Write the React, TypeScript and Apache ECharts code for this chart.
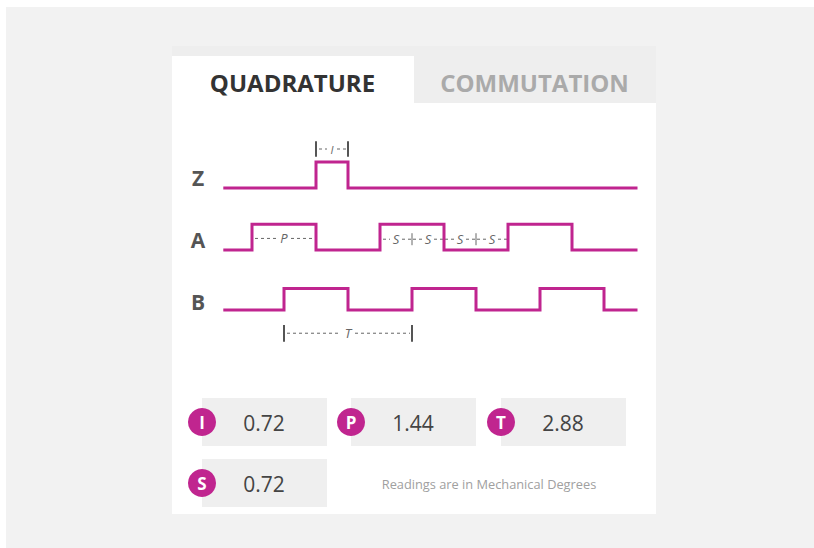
import React, { useEffect, useRef } from "react";
import * as echarts from "echarts";

// ---- data ----
const tabNames = ["QUADRATURE", "COMMUTATION"];
const signalNames = ["Z", "A", "B"];
// transition points, in quarter-period steps
const zEdges = [3, 4];
const aEdges = [1, 3, 5, 7, 9, 11];
const bEdges = [2, 4, 6, 8, 10, 12];
const xStart = 0.15;
const xEnd = 13;
const readingLabels = ["I", "P", "T", "S"];
const readingValues = ["0.72", "1.44", "2.88", "0.72"];
const footnote = "Readings are in Mechanical Degrees";

const MAGENTA = "#c0258f";
const FONT = "'Open Sans', 'Noto Sans', sans-serif";

function buildWave(edges: number[]): number[][] {
  const pts: number[][] = [[xStart, 0]];
  let level = 0;
  for (const e of edges) {
    pts.push([e, level]);
    level = level ? 0 : 1;
    pts.push([e, level]);
  }
  pts.push([xEnd, level]);
  return pts;
}

const waves = [buildWave(zEdges), buildWave(aEdges), buildWave(bEdges)];
const gridTops = [162, 224.3, 288.5];
const gridHeights = [26, 25.7, 21.5];

export default function App() {
  const ref = useRef<HTMLDivElement>(null);
  useEffect(() => {
    if (!ref.current) return;
    const chart = echarts.init(ref.current, undefined, { renderer: "svg" });
    chart.setOption({
      animation: false,
      backgroundColor: "#ffffff",
      grid: gridTops.map((t, i) => ({ left: 220, width: 416, top: t, height: gridHeights[i] })),
      xAxis: gridTops.map((_, i) => ({ type: "value", gridIndex: i, min: 0, max: 13, show: false })),
      yAxis: gridTops.map((_, i) => ({ type: "value", gridIndex: i, min: 0, max: 1, show: false })),
      series: waves.map((w, i) => ({
        type: "line",
        name: signalNames[i],
        xAxisIndex: i,
        yAxisIndex: i,
        data: w,
        showSymbol: false,
        clip: false,
        z: 10,
        lineStyle: { color: MAGENTA, width: 3, join: "miter", cap: "square" },
      })),
    });

    const px = (g: number, x: number, y: number) =>
      chart.convertToPixel({ xAxisIndex: g, yAxisIndex: g }, [x, y]) as number[];

    const els: any[] = [];
    // backgrounds
    els.push({ type: "rect", z: -10, shape: { x: 6, y: 7, width: 808, height: 541 }, style: { fill: "#f2f2f2" } });
    els.push({ type: "rect", z: -9, shape: { x: 172, y: 46, width: 484, height: 468 }, style: { fill: "#ffffff" } });
    els.push({ type: "rect", z: -8, shape: { x: 172, y: 46, width: 484, height: 57 }, style: { fill: "#eeeeee" } });
    els.push({ type: "rect", z: -7, shape: { x: 172, y: 56, width: 242, height: 47 }, style: { fill: "#ffffff" } });
    // tabs
    const tabCenters = [292.5, 534.5];
    tabNames.forEach((t, i) => {
      els.push({
        type: "text",
        x: tabCenters[i],
        y: 82,
        style: {
          text: t,
          fill: i === 0 ? "#333333" : "#aaaaaa",
          font: `bold 24px ${FONT}`,
          align: "center",
          verticalAlign: "middle",
        },
      });
    });
    // signal names
    signalNames.forEach((n, i) => {
      const p = px(i, 0, 0.5);
      els.push({
        type: "text",
        x: 198,
        y: p[1] + 2.5,
        style: { text: n, fill: "#555555", font: `bold 21px ${FONT}`, align: "center", verticalAlign: "middle" },
      });
    });

    const ANN = "#666666";
    const dashSeg = (x1: number, x2: number, y: number) => ({
      type: "line",
      shape: { x1, y1: y, x2, y2: y },
      style: { stroke: ANN, lineWidth: 1, lineDash: [3, 3] },
    });
    const label = (t: string, x: number, y: number, size = 13) => ({
      type: "text",
      x,
      y,
      style: { text: t, fill: ANN, font: `italic ${size}px ${FONT}`, align: "center", verticalAlign: "middle" },
    });
    const bar = (x: number, y1: number, y2: number, w = 2, c = "#555555") => ({
      type: "line",
      shape: { x1: x, y1, x2: x, y2 },
      style: { stroke: c, lineWidth: w },
    });

    // I annotation on Z
    {
      const l = px(0, zEdges[0], 1.5);
      const r = px(0, zEdges[1], 1.5);
      const top = px(0, 0, 1.8)[1];
      const bot = px(0, 0, 1.2)[1];
      const c = (l[0] + r[0]) / 2;
      els.push(bar(l[0], top, bot), bar(r[0], top, bot));
      els.push(dashSeg(l[0] + 3, c - 5, l[1]), dashSeg(c + 5, r[0] - 2, l[1]));
      els.push(label("I", c, l[1], 11));
    }
    // P annotation on A
    {
      const y = 0.45;
      const l = px(1, aEdges[0], y);
      const r = px(1, aEdges[1], y);
      const c = (l[0] + r[0]) / 2;
      els.push(dashSeg(l[0] + 3, c - 7, l[1]), dashSeg(c + 7, r[0] - 2, l[1]));
      els.push(label("P", c, l[1]));
    }
    // S annotations on A
    {
      const y = 0.42;
      const s0 = aEdges[2];
      for (let k = 0; k < 4; k++) {
        const a = px(1, s0 + k, y);
        const b = px(1, s0 + k + 1, y);
        const c = (a[0] + b[0]) / 2;
        els.push(dashSeg(a[0] + (k === 0 ? 3 : 1), c - 6, a[1]), dashSeg(c + 6, b[0] - 1, a[1]));
        els.push(label("S", c, a[1]));
      }
      for (const t of [s0 + 1, s0 + 3]) {
        const p = px(1, t, y);
        els.push(bar(p[0], p[1] - 6, p[1] + 6, 1, ANN));
      }
    }
    // T annotation under B
    {
      const y = -1.08;
      const l = px(2, bEdges[0], y);
      const r = px(2, bEdges[2], y);
      const top = px(2, 0, -0.7)[1];
      const bot = px(2, 0, -1.48)[1];
      const c = (l[0] + r[0]) / 2;
      els.push(bar(l[0], top, bot), bar(r[0], top, bot));
      els.push(dashSeg(l[0] + 3, c - 7, l[1]), dashSeg(c + 7, r[0] - 2, l[1]));
      els.push(label("T", c, l[1]));
    }

    // reading boxes
    const boxX = [202, 351, 501];
    const boxY = [398, 459];
    readingLabels.forEach((lab, i) => {
      const col = i % 3;
      const row = Math.floor(i / 3);
      const x = boxX[col];
      const y = boxY[row];
      els.push({ type: "rect", shape: { x, y, width: 125, height: 48 }, style: { fill: "#efefef" } });
      els.push({ type: "circle", shape: { cx: x, cy: y + 24, r: 14 }, style: { fill: MAGENTA } });
      els.push({
        type: "text",
        x: x,
        y: y + 24,
        style: { text: lab, fill: "#ffffff", font: `bold 17px ${FONT}`, align: "center", verticalAlign: "middle" },
      });
      els.push({
        type: "text",
        x: x + 62,
        y: y + 25,
        style: { text: readingValues[i], fill: "#444444", font: `21px ${FONT}`, align: "center", verticalAlign: "middle" },
      });
    });
    els.push({
      type: "text",
      x: 489,
      y: 484,
      style: { text: footnote, fill: "#a0a0a0", font: `12.8px ${FONT}`, align: "center", verticalAlign: "middle" },
    });

    chart.setOption({ graphic: els });
    return () => chart.dispose();
  }, []);
  return <div ref={ref} style={{ position: "fixed", left: 0, top: 0, width: 814, height: 548 }} />;
}
